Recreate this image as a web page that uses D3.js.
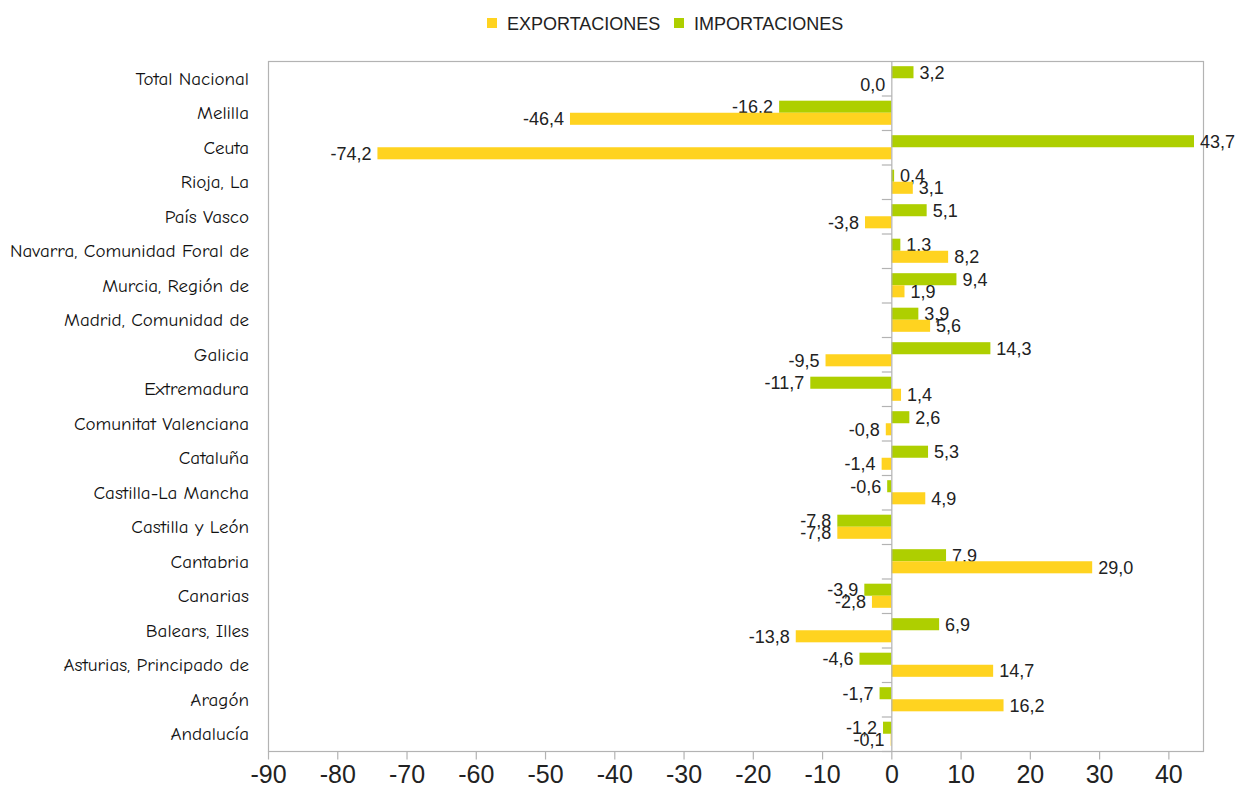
<!DOCTYPE html>
<html>
<head>
<meta charset="utf-8">
<script src="https://cdn.jsdelivr.net/npm/d3@7"></script>
<style>
  body { margin: 0; background: #fff; }
  svg { display: block; }
</style>
</head>
<body>
<script>
// comunidades, de arriba a abajo
const regiones = [
  "Total Nacional", "Melilla", "Ceuta", "Rioja, La", "País Vasco",
  "Navarra, Comunidad Foral de", "Murcia, Región de", "Madrid, Comunidad de",
  "Galicia", "Extremadura", "Comunitat Valenciana", "Cataluña",
  "Castilla-La Mancha", "Castilla y León", "Cantabria", "Canarias",
  "Balears, Illes", "Asturias, Principado de", "Aragón", "Andalucía"
];
const importaciones = [3.2, -16.2, 43.7, 0.4, 5.1, 1.3, 9.4, 3.9, 14.3, -11.7, 2.6, 5.3, -0.6, -7.8, 7.9, -3.9, 6.9, -4.6, -1.7, -1.2];
const exportaciones = [0.0, -46.4, -74.2, 3.1, -3.8, 8.2, 1.9, 5.6, -9.5, 1.4, -0.8, -1.4, 4.9, -7.8, 29.0, -2.8, -13.8, 14.7, 16.2, -0.1];
const series = ["EXPORTACIONES", "IMPORTACIONES"];
const colores = { EXPORTACIONES: "#FFD320", IMPORTACIONES: "#AECF00" };
const xTicks = [-90, -80, -70, -60, -50, -40, -30, -20, -10, 0, 10, 20, 30, 40];

const W = 1239, H = 796;
const plot = { left: 268, right: 1203, top: 61, bottom: 751 };

const svg = d3.select("body").append("svg")
  .attr("width", W).attr("height", H);

const x = d3.scaleLinear().domain([-90, 45]).range([plot.left, plot.right]);
const y = d3.scaleBand().domain(regiones).range([plot.top, plot.bottom]);
// dentro de cada banda: importaciones arriba, exportaciones abajo
const ySub = d3.scaleBand().domain(["IMPORTACIONES", "EXPORTACIONES"])
  .range([0, y.bandwidth()]).paddingOuter(0.43);

const fmt = v => v.toFixed(1).replace(".", ",");

// marco del gráfico
svg.append("rect")
  .attr("x", plot.left + 0.5).attr("y", plot.top + 0.5)
  .attr("width", plot.right - plot.left).attr("height", plot.bottom - plot.top)
  .attr("fill", "none").attr("stroke", "#b3b3b3").attr("stroke-width", 1.2);

// eje x abajo
const gx = svg.append("g")
  .attr("transform", `translate(0,${plot.bottom + 0.5})`)
  .call(d3.axisBottom(x).tickValues(xTicks).tickSize(8).tickPadding(6).tickFormat(d => d));
gx.select(".domain").remove();
gx.selectAll("line").attr("stroke", "#b3b3b3").attr("stroke-width", 1.2);
gx.selectAll("text")
  .attr("font-family", "'Liberation Sans', Arial, sans-serif")
  .attr("font-size", 25).attr("fill", "#222");

// barras
const filas = regiones.map((r, i) => ({
  region: r,
  IMPORTACIONES: importaciones[i],
  EXPORTACIONES: exportaciones[i]
}));

const grupos = svg.append("g").selectAll("g")
  .data(filas).join("g")
  .attr("transform", d => `translate(0,${y(d.region)})`);

const celdas = grupos.selectAll("g")
  .data(d => ["IMPORTACIONES", "EXPORTACIONES"].map(k => ({ key: k, value: d[k] })))
  .join("g");

celdas.append("rect")
  .attr("x", d => x(Math.min(0, d.value)))
  .attr("y", d => ySub(d.key))
  .attr("width", d => Math.abs(x(d.value) - x(0)))
  .attr("height", ySub.bandwidth())
  .attr("fill", d => colores[d.key]);

celdas.append("text")
  .attr("x", d => d.value > 0 ? x(d.value) + 6 : x(d.value) - 6)
  .attr("y", d => ySub(d.key) + ySub.bandwidth() / 2)
  .attr("dy", "0.36em")
  .attr("text-anchor", d => d.value > 0 ? "start" : "end")
  .attr("font-family", "'Liberation Sans', Arial, sans-serif")
  .attr("font-size", 18).attr("fill", "#222")
  .text(d => fmt(d.value));

// eje de categorías en el cero
const gy = svg.append("g")
  .attr("transform", `translate(${x(0) + 0.5},0)`);
gy.append("line")
  .attr("y1", plot.top).attr("y2", plot.bottom)
  .attr("stroke", "#b3b3b3").attr("stroke-width", 1.2);
gy.selectAll("line.tick")
  .data(regiones.slice(1).map(r => y(r)).concat([plot.bottom]))
  .join("line").attr("class", "tick")
  .attr("x1", -10).attr("x2", 0)
  .attr("y1", d => d + 0.5).attr("y2", d => d + 0.5)
  .attr("stroke", "#b3b3b3").attr("stroke-width", 1.2);

// etiquetas de categorías a la izquierda
svg.append("g").selectAll("text")
  .data(regiones).join("text")
  .attr("x", 249)
  .attr("y", d => y(d) + y.bandwidth() / 2)
  .attr("dy", "0.35em")
  .attr("text-anchor", "end")
  .attr("font-family", "'Comic Sans MS', 'Comic Neue', 'Noto Sans', sans-serif")
  .attr("font-size", 19).attr("fill", "#111")
  .text(d => d);

// leyenda
const leyenda = svg.append("g").attr("transform", "translate(487,18)");
const pos = { EXPORTACIONES: 0, IMPORTACIONES: 187 };
const items = leyenda.selectAll("g").data(series).join("g")
  .attr("transform", d => `translate(${pos[d]},0)`);
items.append("rect")
  .attr("width", 10).attr("height", 10)
  .attr("fill", d => colores[d]);
items.append("text")
  .attr("x", 20).attr("y", 11.5)
  .attr("font-family", "'Liberation Sans', Arial, sans-serif")
  .attr("font-size", 18).attr("fill", "#222")
  .text(d => d);
</script>
</body>
</html>
